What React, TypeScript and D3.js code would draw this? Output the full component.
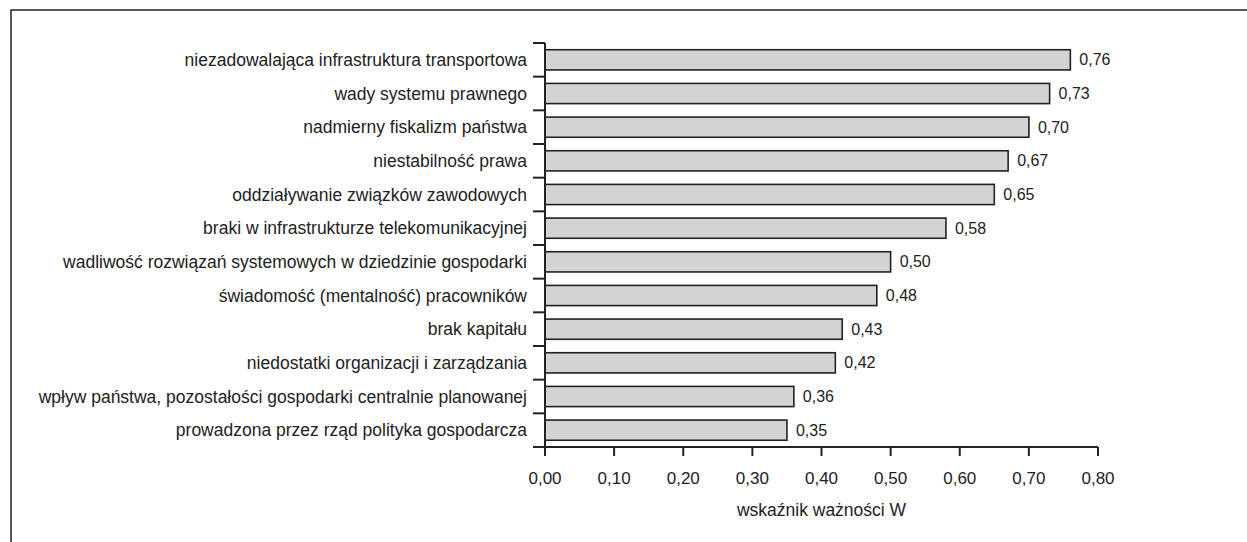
import React from "react";
import * as d3 from "d3";

const categories = [
  "niezadowalająca infrastruktura transportowa",
  "wady systemu prawnego",
  "nadmierny fiskalizm państwa",
  "niestabilność prawa",
  "oddziaływanie związków zawodowych",
  "braki w infrastrukturze telekomunikacyjnej",
  "wadliwość rozwiązań systemowych w dziedzinie gospodarki",
  "świadomość (mentalność) pracowników",
  "brak kapitału",
  "niedostatki organizacji i zarządzania",
  "wpływ państwa, pozostałości gospodarki centralnie planowanej",
  "prowadzona przez rząd polityka gospodarcza",
];

const values = [0.76, 0.73, 0.7, 0.67, 0.65, 0.58, 0.5, 0.48, 0.43, 0.42, 0.36, 0.35];

const xTicks = [0, 0.1, 0.2, 0.3, 0.4, 0.5, 0.6, 0.7, 0.8];

const axisTitle = "wskaźnik ważności W";

const W = 1247;
const H = 542;
const FONT = "'Liberation Sans', Arial, sans-serif";
const fmt = (v: number) => v.toFixed(2).replace(".", ",");

export default function App() {
  const x = d3.scaleLinear().domain([0, 0.8]).range([545, 1098]);
  const y = d3
    .scaleBand<string>()
    .domain(categories)
    .range([43, 447])
    .paddingInner(0.4)
    .paddingOuter(0.2);
  const step = y.step();
  const top = 43;
  const bottom = 447;

  return (
    <svg
      width={W}
      height={H}
      style={{ position: "absolute", left: 0, top: 0, background: "#fff" }}
      fontFamily={FONT}
    >
      <rect x={11} y={10} width={W + 20} height={H + 20} fill="none" stroke="#222" strokeWidth={1.5} />

      {/* bars */}
      {categories.map((c, i) => (
        <g key={c}>
          <rect
            x={x(0)}
            y={y(c)!}
            width={x(values[i]) - x(0)}
            height={y.bandwidth()}
            fill="#d3d3d3"
            stroke="#222"
            strokeWidth={1.6}
          />
          <text
            x={x(values[i]) + 9}
            y={y(c)! + y.bandwidth() / 2}
            dy="0.35em"
            fontSize={16}
            fill="#222"
          >
            {fmt(values[i])}
          </text>
          <text
            x={527}
            y={y(c)! + y.bandwidth() / 2}
            dy="0.35em"
            textAnchor="end"
            fontSize={17.5}
            fill="#222"
          >
            {c}
          </text>
        </g>
      ))}

      {/* category axis */}
      <line x1={x(0)} x2={x(0)} y1={top} y2={bottom} stroke="#222" strokeWidth={2} />
      {d3.range(categories.length + 1).map((k) => (
        <line
          key={k}
          x1={x(0) - 12}
          x2={x(0)}
          y1={top + k * step}
          y2={top + k * step}
          stroke="#222"
          strokeWidth={2}
        />
      ))}

      {/* value axis */}
      <line x1={x(0) - 12} x2={x(0.8)} y1={bottom} y2={bottom} stroke="#222" strokeWidth={2} />
      {xTicks.map((t) => (
        <g key={t}>
          <line x1={x(t)} x2={x(t)} y1={bottom} y2={bottom + 9} stroke="#222" strokeWidth={2} />
          <text x={x(t)} y={478} dy="0.35em" textAnchor="middle" fontSize={17} fill="#222">
            {fmt(t)}
          </text>
        </g>
      ))}
      <text x={(x(0) + x(0.8)) / 2} y={510} dy="0.35em" textAnchor="middle" fontSize={17.5} fill="#222">
        {axisTitle}
      </text>
    </svg>
  );
}
